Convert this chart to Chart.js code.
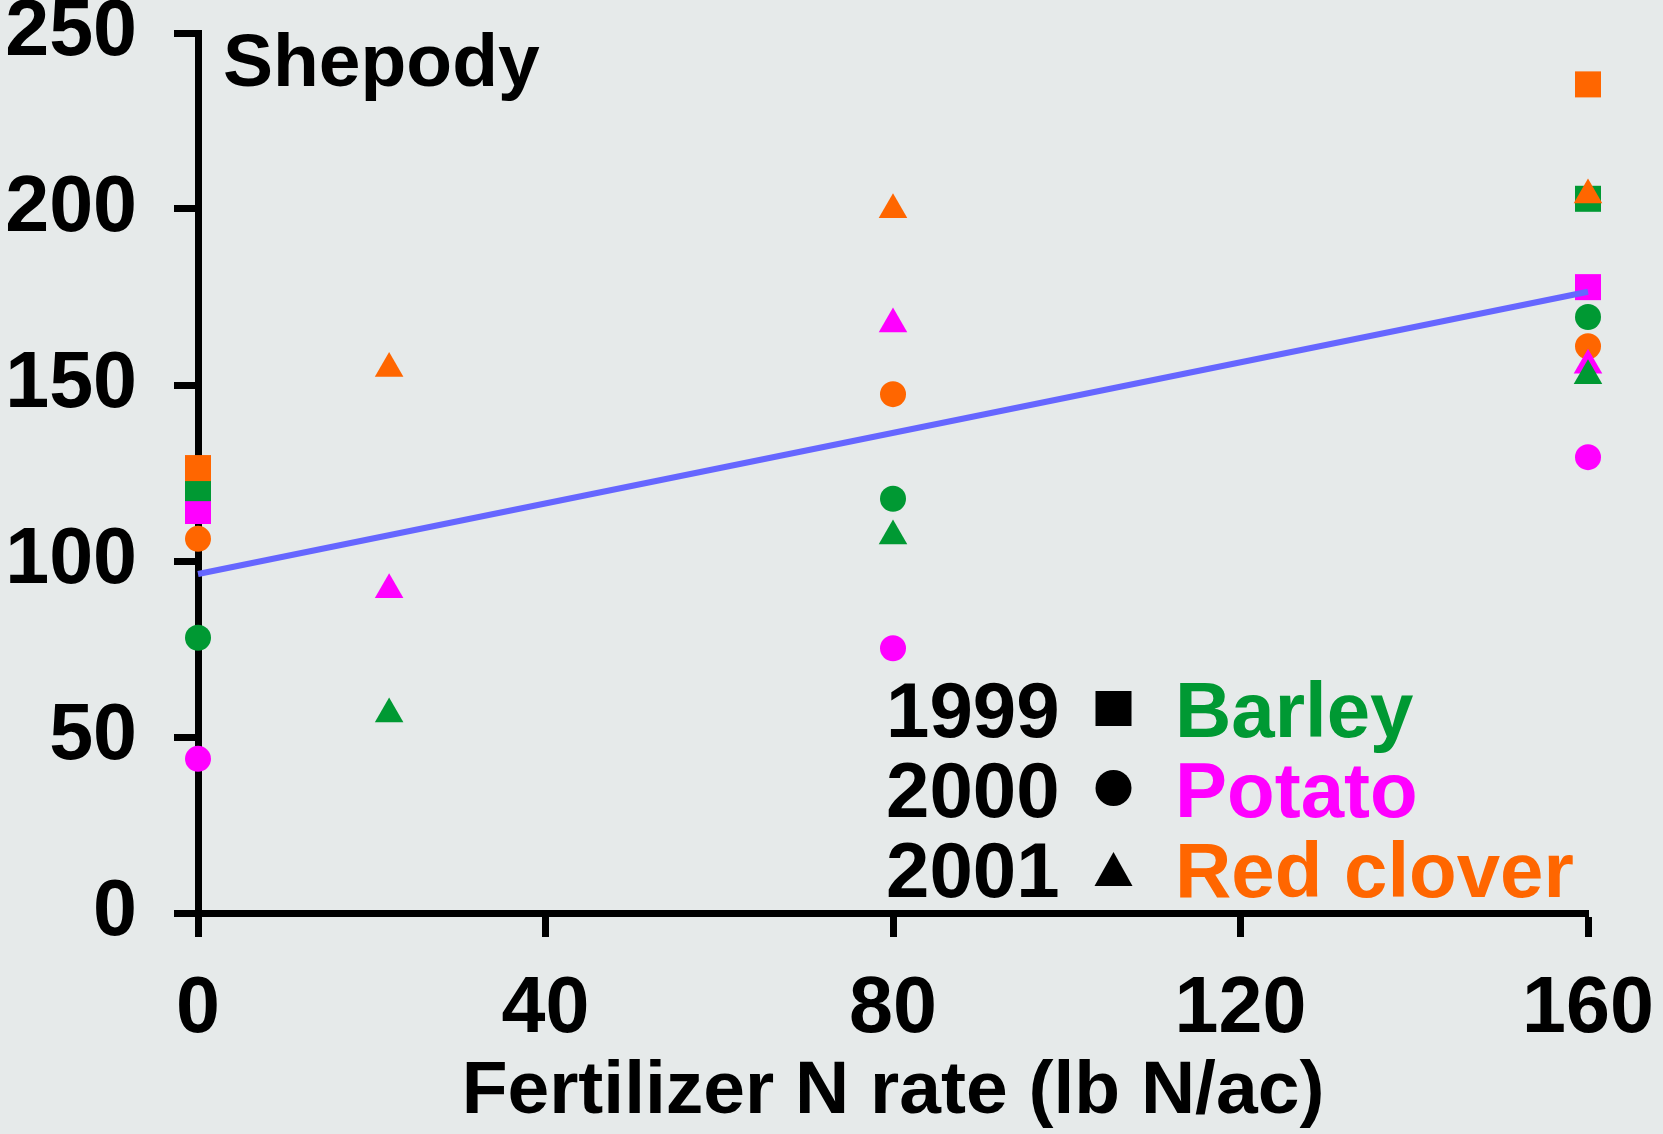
<!DOCTYPE html>
<html>
<head>
<meta charset="utf-8">
<script src="https://cdn.jsdelivr.net/npm/chart.js@4"></script>
<style>
  html, body { margin: 0; padding: 0; background: #e6eaea; }
  #wrap { width: 1663px; height: 1134px; }
</style>
</head>
<body>
<div id="wrap"><canvas id="c" width="1663" height="1134"></canvas></div>
<script>
// --- data (yield vs N rate) ---
const xTicks = [0, 40, 80, 120, 160];
const yTicks = [0, 50, 100, 150, 200, 250];

// 1999 (squares)
const x1999 = [0, 160];
const barley1999 = [120.7, 202.9];
const potato1999 = [114.2, 177.8];
const clover1999 = [126.4, 235.4];

// 2000 (circles)
const x2000 = [0, 80, 160];
const barley2000 = [78.2, 117.7, 169.3];
const potato2000 = [43.8, 75.2, 129.5];
const clover2000 = [106.3, 147.4, 161.0];

// 2001 (triangles)
const x2001 = [22, 80, 160];
const barley2001 = [56.5, 107.1, 152.6];
const potato2001 = [91.8, 167.3, 155.6];
const clover2001 = [154.7, 199.8, 204.0];

// fitted line
const fitX = [0, 160];
const fitY = [96.3, 176.5];

const years = ['1999', '2000', '2001'];
const crops = ['Barley', 'Potato', 'Red clover'];

const GREEN = '#009933', MAGENTA = '#ff00ff', ORANGE = '#ff6600';
const BG = '#e6eaea';
const FONT = "'Liberation Sans', Arial, sans-serif";

const toPts = (xs, ys) => xs.map((x, i) => ({ x: x, y: ys[i] }));

// draw order: first in list ends up at the bottom
const markerSets = [
    { label: 'Potato 1999', data: toPts(x1999, potato1999), color: MAGENTA, style: 'rect', r: 18.4 },
    { label: 'Barley 1999', data: toPts(x1999, barley1999), color: GREEN, style: 'rect', r: 18.4 },
    { label: 'Red clover 1999', data: toPts(x1999, clover1999), color: ORANGE, style: 'rect', r: 18.4 },
    { label: 'Potato 2000', data: toPts(x2000, potato2000), color: MAGENTA, style: 'circle', r: 13 },
    { label: 'Barley 2000', data: toPts(x2000, barley2000), color: GREEN, style: 'circle', r: 13 },
    { label: 'Red clover 2000', data: toPts(x2000, clover2000), color: ORANGE, style: 'circle', r: 13 },
    { label: 'Potato 2001', data: toPts(x2001, potato2001), color: MAGENTA, style: 'triangle', r: 16.5 },
    { label: 'Barley 2001', data: toPts(x2001, barley2001), color: GREEN, style: 'triangle', r: 16.5 },
    { label: 'Red clover 2001', data: toPts(x2001, clover2001), color: ORANGE, style: 'triangle', r: 16.5 },
];

const datasets = markerSets.map((s, i) => ({
    type: 'scatter',
    label: s.label,
    data: s.data,
    pointStyle: s.style,
    pointRadius: s.r,
    pointHoverRadius: s.r,
    pointBackgroundColor: s.color,
    pointBorderColor: s.color,
    pointBorderWidth: 0,
    showLine: false,
    clip: false,
    order: 20 - i
}));

datasets.push({
    type: 'line',
    label: 'fit',
    data: toPts(fitX, fitY),
    borderColor: '#6666ff',
    borderWidth: 6,
    pointRadius: 0,
    fill: false,
    clip: false,
    order: 0
});

// background + panel texts (title + legend)
const decor = {
    id: 'decor',
    beforeDraw(chart) {
        const ctx = chart.ctx;
        ctx.save();
        ctx.fillStyle = BG;
        ctx.fillRect(0, 0, chart.width, chart.height);
        ctx.restore();
    },
    afterDraw(chart) {
        const ctx = chart.ctx;
        ctx.save();
        ctx.textBaseline = 'alphabetic';
        ctx.textAlign = 'left';
        ctx.fillStyle = '#000';
        ctx.font = 'bold 75px ' + FONT;
        ctx.fillText('Shepody', 223, 86);

        // legend: year + symbol + crop
        const cropColors = [GREEN, MAGENTA, ORANGE];
        const baselines = [737, 817, 897];
        ctx.font = 'bold 78px ' + FONT;
        years.forEach((yr, i) => {
            const b = baselines[i];
            ctx.fillStyle = '#000';
            ctx.fillText(yr, 886, b);
            ctx.fillStyle = cropColors[i];
            ctx.fillText(crops[i], 1175, b);
        });
        const cx = 1113.5;
        ctx.fillStyle = '#000';
        ctx.fillRect(cx - 18, 691, 36, 35);
        ctx.beginPath();
        ctx.arc(cx, 788, 18, 0, Math.PI * 2);
        ctx.fill();
        ctx.beginPath();
        ctx.moveTo(cx, 852);
        ctx.lineTo(cx + 19, 886);
        ctx.lineTo(cx - 19, 886);
        ctx.closePath();
        ctx.fill();
        ctx.restore();
    }
};

new Chart(document.getElementById('c'), {
    data: { datasets: datasets },
    options: {
        responsive: false,
        animation: false,
        events: [],
        layout: { padding: { top: 33, right: 75, left: 0, bottom: 0 } },
        plugins: { legend: { display: false }, tooltip: { enabled: false } },
        scales: {
            x: {
                type: 'linear',
                min: 0, max: 160,
                afterBuildTicks: (scale) => { scale.ticks = xTicks.map(v => ({ value: v })); },
                afterFit: (scale) => { scale.height = 221; scale.paddingLeft = 0; scale.paddingRight = 0; },
                border: { display: true, color: '#000', width: 7 },
                grid: { display: true, drawOnChartArea: false, drawTicks: true, tickLength: 24, tickWidth: 7, tickColor: '#000' },
                ticks: { color: '#000', padding: 26, font: { family: FONT, size: 79, weight: 'bold', lineHeight: 1.2 } },
                title: {
                    display: true,
                    text: 'Fertilizer N rate (lb N/ac)',
                    color: '#000',
                    font: { family: FONT, size: 75, weight: 'bold', lineHeight: 1 },
                    padding: { top: 0, bottom: 4 }
                }
            },
            y: {
                type: 'linear',
                min: 0, max: 250,
                afterBuildTicks: (scale) => { scale.ticks = yTicks.map(v => ({ value: v })); },
                afterFit: (scale) => { scale.width = 198; scale.paddingTop = 0; scale.paddingBottom = 0; },
                border: { display: true, color: '#000', width: 7 },
                grid: { display: true, drawOnChartArea: false, drawTicks: true, tickLength: 24, tickWidth: 7, tickColor: '#000' },
                ticks: { color: '#000', padding: 37, font: { family: FONT, size: 79, weight: 'bold', lineHeight: 1.2 } }
            }
        }
    },
    plugins: [decor]
});
</script>
</body>
</html>
